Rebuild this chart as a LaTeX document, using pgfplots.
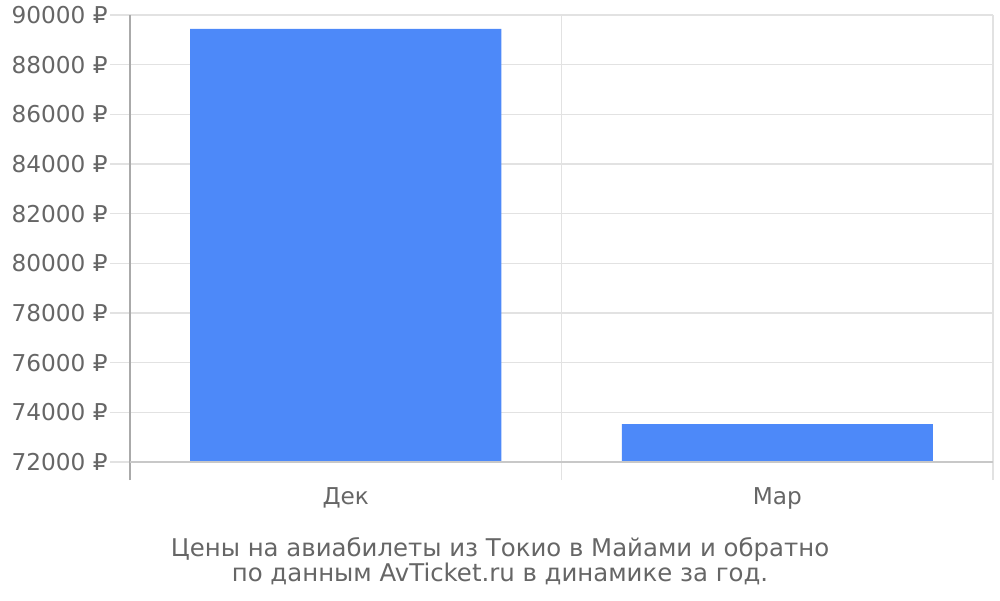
\documentclass[border=0pt]{standalone}
\usepackage{fontspec}
\setmainfont{DejaVu Sans}
\usepackage{pgfplots}
\pgfplotsset{compat=1.18}
\definecolor{txt}{HTML}{666666}
\definecolor{gridc}{HTML}{E2E2E2}
\definecolor{axisc}{HTML}{AAAAAA}
\definecolor{basec}{HTML}{C8C8C8}
\definecolor{barc}{HTML}{4D89F9}
\begin{document}
\fontsize{11.6}{14}\selectfont
\begin{tikzpicture}
\useasboundingbox (0,0) rectangle (500pt,300pt);
\begin{axis}[
  at={(65pt,60pt)}, anchor=south west,
  scale only axis, width=431.5pt, height=232.5pt,
  xmin=-0.5, xmax=1.5, ymin=71275, ymax=90000,
  % bars start at 72000: shift the y axis so that 72000 is its zero
  y coord trafo/.code={\begingroup\pgfkeys{/pgf/fpu,/pgf/fpu/output format=fixed}\pgfmathparse{#1-72000}\pgfmathsmuggle\pgfmathresult\endgroup},
  y coord inv trafo/.code={\begingroup\pgfkeys{/pgf/fpu,/pgf/fpu/output format=fixed}\pgfmathparse{#1+72000}\pgfmathsmuggle\pgfmathresult\endgroup},
  scaled y ticks=false,
  axis x line*=bottom, axis y line*=left,
  x axis line style={draw=none},
  y axis line style={draw=axisc, line width=0.75pt, -},
  xtick={0,1}, xticklabels={Дек,Мар},
  xtick style={draw=none},
  minor xtick={-0.5,0.5,1.5}, xminorgrids,
  minor grid style={gridc, line width=0.6pt},
  minor tick length=0pt,
  ytick={72000,74000,76000,78000,80000,82000,84000,86000,88000,90000},
  yticklabels={72000 ₽,74000 ₽,76000 ₽,78000 ₽,80000 ₽,82000 ₽,84000 ₽,86000 ₽,88000 ₽,90000 ₽},
  ymajorgrids, major grid style={gridc, line width=0.6pt},
  tick align=outside, major tick length=10pt,
  ytick style={gridc, line width=0.6pt},
  ticklabel style={text=txt, font=\fontsize{11.6}{14}\selectfont},
  yticklabel style={inner sep=1pt},
  xticklabel style={anchor=base, inner sep=0pt, yshift=-2pt},
  clip=false,
]
\addplot[ybar, fill=barc, draw=none, bar width=155.5pt] coordinates {(0,89440) (1,73530)};
\addplot[draw=basec, line width=0.75pt] coordinates {(-0.5,72000) (1.5,72000)};
\end{axis}
\node[anchor=base, text=txt, font=\fontsize{12.2}{14}\selectfont] at (250pt,22pt) {Цены на авиабилеты из Токио в Майами и обратно};
\node[anchor=base, text=txt, font=\fontsize{12.2}{14}\selectfont] at (250pt,9.5pt) {по данным AvTicket.ru в динамике за год.};
\end{tikzpicture}
\end{document}
